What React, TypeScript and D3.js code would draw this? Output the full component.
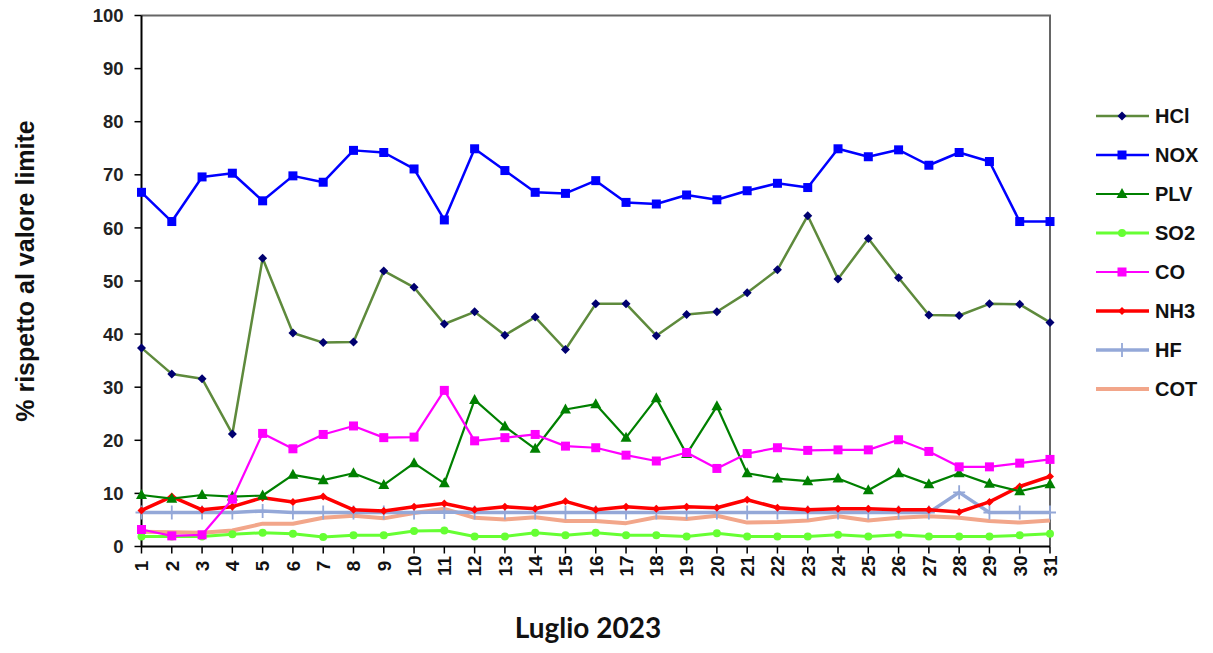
import * as d3 from "d3";

const days = d3.range(1, 32);

const hcl = [37.4, 32.5, 31.6, 21.2, 54.3, 40.2, 38.4, 38.5, 51.9, 48.8, 41.9, 44.2, 39.8, 43.2, 37.1, 45.7, 45.7, 39.7, 43.7, 44.2, 47.8, 52.1, 62.3, 50.4, 58.0, 50.6, 43.6, 43.5, 45.7, 45.6, 42.2];
const nox = [66.7, 61.2, 69.6, 70.3, 65.1, 69.8, 68.6, 74.6, 74.2, 71.1, 61.5, 74.9, 70.8, 66.7, 66.5, 68.9, 64.8, 64.5, 66.2, 65.3, 67.0, 68.4, 67.6, 74.9, 73.4, 74.7, 71.8, 74.2, 72.5, 61.2, 61.2];
const plv = [9.7, 9.0, 9.7, 9.4, 9.6, 13.5, 12.5, 13.8, 11.6, 15.7, 11.9, 27.6, 22.6, 18.4, 25.8, 26.8, 20.5, 27.9, 17.4, 26.4, 13.8, 12.8, 12.3, 12.8, 10.6, 13.8, 11.7, 13.8, 11.8, 10.4, 11.7];
const so2 = [1.9, 1.9, 1.9, 2.3, 2.6, 2.4, 1.8, 2.1, 2.1, 2.9, 3.0, 1.9, 1.9, 2.6, 2.1, 2.6, 2.1, 2.1, 1.9, 2.5, 1.9, 1.9, 1.9, 2.2, 1.9, 2.2, 1.9, 1.9, 1.9, 2.1, 2.4];
const co = [3.2, 2.0, 2.2, 8.9, 21.3, 18.4, 21.1, 22.7, 20.5, 20.6, 29.4, 19.9, 20.5, 21.1, 18.9, 18.6, 17.2, 16.1, 17.7, 14.7, 17.5, 18.6, 18.1, 18.2, 18.2, 20.1, 17.9, 15.0, 15.0, 15.7, 16.4];
const nh3 = [6.8, 9.4, 6.9, 7.5, 9.2, 8.4, 9.4, 6.9, 6.7, 7.5, 8.1, 6.9, 7.5, 7.1, 8.5, 6.9, 7.5, 7.1, 7.5, 7.3, 8.8, 7.3, 6.9, 7.1, 7.1, 6.9, 6.9, 6.5, 8.4, 11.3, 13.2];
const hf = [6.4, 6.4, 6.4, 6.4, 6.7, 6.4, 6.4, 6.4, 6.4, 6.4, 6.5, 6.4, 6.4, 6.4, 6.4, 6.4, 6.4, 6.4, 6.4, 6.4, 6.4, 6.4, 6.4, 6.4, 6.4, 6.4, 6.4, 10.2, 6.4, 6.4, 6.4];
const cot = [2.8, 2.7, 2.6, 3.0, 4.3, 4.3, 5.4, 5.8, 5.3, 6.3, 7.1, 5.4, 5.1, 5.5, 4.8, 4.8, 4.4, 5.5, 5.2, 5.8, 4.5, 4.6, 4.9, 5.7, 4.9, 5.4, 5.7, 5.4, 4.8, 4.5, 4.9];

const yTicks = [0, 10, 20, 30, 40, 50, 60, 70, 80, 90, 100];

type Marker = "diamond" | "square" | "triangle" | "circle" | "smalldiamond" | "plus" | "none";

const series: { name: string; values: number[]; color: string; markerColor: string; width: number; marker: Marker }[] = [
  { name: "HCl", values: hcl, color: "#5e8a3c", markerColor: "#000070", width: 2.5, marker: "diamond" },
  { name: "NOX", values: nox, color: "#0000ff", markerColor: "#0000ff", width: 2.5, marker: "square" },
  { name: "PLV", values: plv, color: "#008000", markerColor: "#008000", width: 2.2, marker: "triangle" },
  { name: "SO2", values: so2, color: "#66ff33", markerColor: "#66ff33", width: 3, marker: "circle" },
  { name: "CO", values: co, color: "#ff00ff", markerColor: "#ff00ff", width: 2.2, marker: "square" },
  { name: "NH3", values: nh3, color: "#ff0000", markerColor: "#ff0000", width: 3.5, marker: "smalldiamond" },
  { name: "HF", values: hf, color: "#94a8d8", markerColor: "#94a8d8", width: 3.5, marker: "plus" },
  { name: "COT", values: cot, color: "#f2a68a", markerColor: "#f2a68a", width: 4, marker: "none" },
];

const drawOrder = ["COT", "HF", "SO2", "NH3", "PLV", "CO", "HCl", "NOX"];

function MarkerShape({ type, x, y, color }: { type: Marker; x: number; y: number; color: string }) {
  switch (type) {
    case "diamond":
      return <path d={`M${x},${y - 4.5}L${x + 4.5},${y}L${x},${y + 4.5}L${x - 4.5},${y}Z`} fill={color} />;
    case "smalldiamond":
      return <path d={`M${x},${y - 4}L${x + 4},${y}L${x},${y + 4}L${x - 4},${y}Z`} fill={color} />;
    case "square":
      return <rect x={x - 4.5} y={y - 4.5} width={9} height={9} fill={color} />;
    case "triangle":
      return <path d={`M${x},${y - 6}L${x + 5.5},${y + 4}L${x - 5.5},${y + 4}Z`} fill={color} />;
    case "circle":
      return <circle cx={x} cy={y} r={4} fill={color} />;
    case "plus":
      return (
        <path d={`M${x - 6},${y}H${x + 6}M${x},${y - 7}V${y + 7}`} stroke={color} strokeWidth={1.8} fill="none" />
      );
    default:
      return null;
  }
}

export default function App() {
  const width = 1213;
  const height = 653;
  const left = 141.5;
  const right = 1050;
  const top = 15.5;
  const bottom = 546.5;

  const x = d3.scaleLinear().domain([1, 31]).range([left, right]);
  const y = d3.scaleLinear().domain([0, 100]).range([bottom, top]);

  const line = d3
    .line<number>()
    .x((_, i) => x(days[i]))
    .y((d) => y(d));

  const font = "Arial, 'Liberation Sans', sans-serif";
  const ordered = drawOrder.map((n) => series.find((s) => s.name === n)!);

  return (
    <svg width={width} height={height} style={{ position: "absolute", left: 0, top: 0 }}>
      <rect width={width} height={height} fill="#fff" />
      {/* plot frame */}
      <path d={`M${left},${top}H${right}V${bottom}`} stroke="#666" strokeWidth={2} fill="none" />
      <line x1={left} x2={left} y1={top} y2={bottom} stroke="#000" strokeWidth={2} />
      <line x1={left} x2={right} y1={bottom} y2={bottom} stroke="#000" strokeWidth={2} />

      {yTicks.map((t) => (
        <g key={t}>
          <line x1={left - 7} x2={left} y1={y(t)} y2={y(t)} stroke="#000" strokeWidth={1.5} />
          <text
            x={left - 18}
            y={y(t)}
            dy="0.36em"
            textAnchor="end"
            fontFamily={font}
            fontWeight="bold"
            fontSize={18.5}
            fill="#222"
          >
            {t}
          </text>
        </g>
      ))}

      {days.map((d) => (
        <g key={d}>
          <line x1={x(d)} x2={x(d)} y1={bottom} y2={bottom + 7} stroke="#000" strokeWidth={1.5} />
          <text
            transform={`translate(${x(d)},${566}) rotate(-90)`}
            dy="0.36em"
            textAnchor="middle"
            fontFamily={font}
            fontWeight="bold"
            fontSize={19}
            fill="#111"
          >
            {d}
          </text>
        </g>
      ))}

      {ordered.map((s) => (
        <g key={s.name}>
          <path d={line(s.values) ?? ""} stroke={s.color} strokeWidth={s.width} fill="none" strokeLinejoin="round" />
          {s.values.map((v, i) => (
            <MarkerShape key={i} type={s.marker} x={x(days[i])} y={y(v)} color={s.markerColor} />
          ))}
        </g>
      ))}

      {/* legend */}
      {series.map((s, i) => {
        const ly = 116 + i * 39;
        return (
          <g key={s.name}>
            <line x1={1096} x2={1149} y1={ly} y2={ly} stroke={s.color} strokeWidth={s.width} />
            <MarkerShape type={s.marker} x={1122} y={ly} color={s.markerColor} />
            <text x={1155} y={ly} dy="0.36em" fontFamily={font} fontWeight="bold" fontSize={20} fill="#111">
              {s.name}
            </text>
          </g>
        );
      })}

      <text
        transform={`translate(25,${271}) rotate(-90)`}
        textAnchor="middle"
        dy="0.35em"
        fontFamily={font}
        fontWeight="bold"
        fontSize={25}
        fill="#111"
      >
        % rispetto al valore limite
      </text>

      <text
        x={588}
        y={638}
        textAnchor="middle"
        fontFamily="Lato, 'Open Sans', sans-serif"
        fontWeight="bold"
        fontSize={28}
        fill="#111"
      >
        Luglio 2023
      </text>
    </svg>
  );
}
